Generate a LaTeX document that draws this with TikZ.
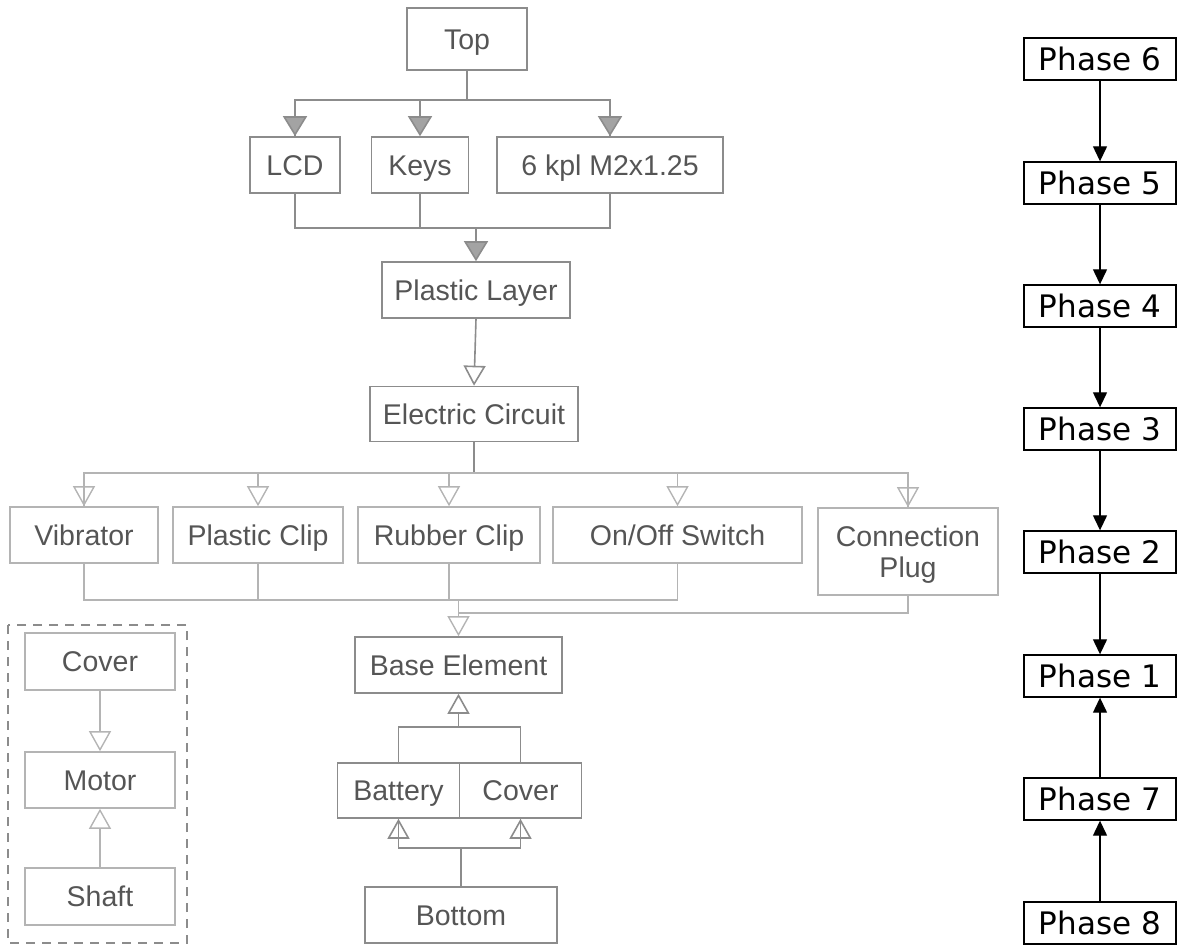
\documentclass[tikz,border=0pt]{standalone}
\usepackage{fontspec}
\setmainfont{Liberation Sans}
\newfontfamily\phasefont{DejaVu Sans}
\usetikzlibrary{arrows.meta}
\definecolor{linegray}{HTML}{8C8C8C}
\definecolor{faintgray}{HTML}{B4B4B4}
\definecolor{txtgray}{HTML}{555555}
\begin{document}
\begin{tikzpicture}[x=1pt,y=-1pt,
  part/.style={draw=linegray, line width=1.6pt, text=txtgray, font=\fontsize{28.5}{31}\selectfont, inner sep=0pt, text height=20.5pt, text depth=0pt, minimum height=56pt, align=center},
  faintpart/.style={part, draw=faintgray},
  conn/.style={draw=linegray, line width=1.6pt},
  faintconn/.style={draw=faintgray, line width=1.4pt},
  filltip/.style={-{Triangle[length=20pt,width=24pt,fill=linegray!80,color=linegray]}},
  opentip/.style={-{Triangle[open,length=20pt,width=22pt]}},
  groupbox/.style={draw=linegray, line width=2.6pt, dash pattern=on 9pt off 7pt},
  phasebox/.style={draw=black, line width=1.4pt, font=\phasefont\fontsize{31}{34}\selectfont, minimum width=152pt, minimum height=42pt, inner sep=0pt, text height=22.5pt, text depth=0pt},
  phasearrow/.style={draw=black, line width=1.3pt, -{Triangle[length=15pt,width=14pt]}}
]
\useasboundingbox (0,0) rectangle (1182,949);

% ---------------- main assembly tree ----------------
\node[part, minimum width=120pt, minimum height=62pt] (top) at (467,39) {Top};
\node[part, minimum width=90pt] (lcd) at (295,165) {LCD};
\node[part, minimum width=97pt] (keys) at (420,165) {Keys};
\node[part, minimum width=226pt] (screws) at (610,165) {6 kpl M2x1.25};
\node[part, minimum width=188pt] (plastic) at (476,290) {Plastic Layer};
\node[part, minimum width=208pt, minimum height=55pt] (circuit) at (474,414) {Electric Circuit};

\node[faintpart, minimum width=148pt] (vibrator) at (84,535) {Vibrator};
\node[faintpart, minimum width=170pt] (pclip) at (258,535) {Plastic Clip};
\node[faintpart, minimum width=182pt] (rclip) at (449,535) {Rubber Clip};
\node[faintpart, minimum width=249pt] (switch) at (677.5,535) {On/Off Switch};
\node[faintpart, minimum width=180pt, minimum height=87pt, text height=51pt, text depth=0pt] (plug) at (908,551.5) {Connection\\Plug};

\node[part, minimum width=207pt] (base) at (458.5,665) {Base Element};
\node[part, minimum width=122pt, minimum height=55pt] (battery) at (398.5,790.5) {Battery};
\node[part, minimum width=122pt, minimum height=55pt] (bcover) at (520.5,790.5) {Cover};
\node[part, minimum width=192pt] (bottom) at (461,915) {Bottom};

% vibrator sub-assembly
\node[faintpart, minimum width=150pt, minimum height=57pt] (vcover) at (100,661.5) {Cover};
\node[faintpart, minimum width=150pt] (motor) at (100,780) {Motor};
\node[faintpart, minimum width=150pt, minimum height=57pt] (shaft) at (100,896.5) {Shaft};
\draw[groupbox] (8,625) rectangle (187,943);

% connectors: Top -> LCD, Keys, screws
\coordinate (topbus) at (467,100);
\draw[conn] (top.south) -- (topbus);
\draw[conn] (topbus) -| (lcd.north);
\draw[conn] (topbus) -| (screws.north);
\draw[conn, filltip] (lcd.north |- topbus) -- (lcd.north);
\draw[conn, filltip] (keys.north |- topbus) -- (keys.north);
\draw[conn, filltip] (screws.north |- topbus) -- (screws.north);

% LCD, Keys, screws -> Plastic Layer
\coordinate (midbus) at (476,228);
\draw[conn] (lcd.south) |- (midbus);
\draw[conn] (screws.south) |- (midbus);
\draw[conn] (keys.south) -- (keys.south |- midbus);
\draw[conn, filltip] (midbus) -- (plastic.north);

% Plastic Layer -> Electric Circuit
\draw[conn, opentip] (plastic.south) -- (circuit.north);

% Electric Circuit -> row of parts
\coordinate (rowbus) at (474,473);
\draw[conn] (circuit.south) -- (rowbus);
\draw[faintconn] (rowbus) -| (vibrator.north);
\draw[faintconn] (rowbus) -| (plug.north);
\draw[faintconn, opentip] (vibrator.north |- rowbus) -- (vibrator.north);
\draw[faintconn, opentip] (pclip.north |- rowbus) -- (pclip.north);
\draw[faintconn, opentip] (rclip.north |- rowbus) -- (rclip.north);
\draw[faintconn, opentip] (switch.north |- rowbus) -- (switch.north);
\draw[faintconn, opentip] (plug.north |- rowbus) -- (plug.north);

% row of parts -> Base Element
\coordinate (basebus) at (458.5,600);
\coordinate (plugbus) at (458.5,613);
\draw[faintconn] (vibrator.south) |- (basebus);
\draw[faintconn] (switch.south) |- (basebus);
\draw[faintconn] (pclip.south) -- (pclip.south |- basebus);
\draw[faintconn] (rclip.south) -- (rclip.south |- basebus);
\draw[faintconn] (plug.south) |- (plugbus);
\draw[faintconn, opentip] (basebus) -- (base.north);

% Battery, Cover -> Base Element
\coordinate (batbus) at (458.5,727);
\draw[conn] (battery.north) |- (batbus);
\draw[conn] (bcover.north) |- (batbus);
\draw[conn, opentip] (batbus) -- (base.south);

% Bottom -> Battery, Cover
\coordinate (botbus) at (461,848);
\draw[conn] (bottom.north) -- (botbus);
\draw[conn] (botbus) -| (battery.south);
\draw[conn] (botbus) -| (bcover.south);
\draw[conn, opentip] (battery.south |- botbus) -- (battery.south);
\draw[conn, opentip] (bcover.south |- botbus) -- (bcover.south);

% vibrator sub-assembly connectors
\draw[faintconn, opentip] (vcover.south) -- (motor.north);
\draw[faintconn, opentip] (shaft.north) -- (motor.south);

% ---------------- phases ----------------
\node[phasebox] (p6) at (1100,59) {Phase 6};
\node[phasebox] (p5) at (1100,183) {Phase 5};
\node[phasebox] (p4) at (1100,306) {Phase 4};
\node[phasebox] (p3) at (1100,429) {Phase 3};
\node[phasebox] (p2) at (1100,552) {Phase 2};
\node[phasebox] (p1) at (1100,676) {Phase 1};
\node[phasebox] (p7) at (1100,799) {Phase 7};
\node[phasebox] (p8) at (1100,923) {Phase 8};
\draw[phasearrow] (p6) -- (p5);
\draw[phasearrow] (p5) -- (p4);
\draw[phasearrow] (p4) -- (p3);
\draw[phasearrow] (p3) -- (p2);
\draw[phasearrow] (p2) -- (p1);
\draw[phasearrow] (p7) -- (p1);
\draw[phasearrow] (p8) -- (p7);
\end{tikzpicture}
\end{document}
